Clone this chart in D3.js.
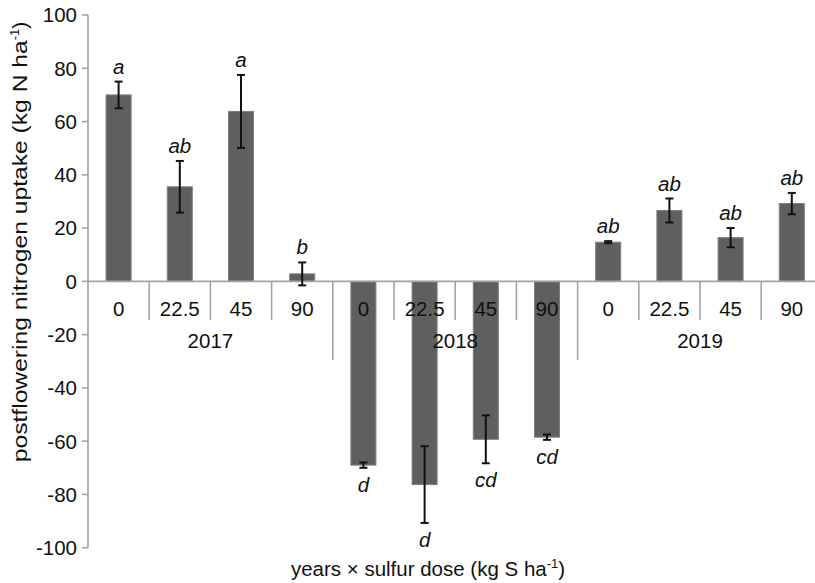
<!DOCTYPE html>
<html><head><meta charset="utf-8">
<script src="https://cdn.jsdelivr.net/npm/d3@7"></script>
<style>body{margin:0;background:#fff}svg{display:block}text{font-family:"Liberation Sans",Arial,sans-serif}</style>
</head><body>
<svg id="c" width="815" height="583"></svg>
<script>
const years = ["2017","2018","2019"];
const doses = ["0","22.5","45","90"];
const values = [70, 35.5, 63.8, 2.8, -69, -76.3, -59.3, -58.5, 14.7, 26.6, 16.4, 29.2];
const errors = [5, 9.7, 13.7, 4.3, 1, 14.4, 9, 1, 0.4, 4.5, 3.6, 4];
const letters = ["a","ab","a","b","d","d","cd","cd","ab","ab","ab","ab"];
const yTicks = [-100,-80,-60,-40,-20,0,20,40,60,80,100];

const data = [];
years.forEach((yr,i)=>doses.forEach((d,j)=>{const k=i*4+j;data.push({key:yr+"-"+d,year:yr,dose:d,v:values[k],e:errors[k],l:letters[k]});}));

const svg = d3.select("#c");
const y = d3.scaleLinear().domain([-100,100]).range([547.7,15]);
const x = d3.scaleBand().domain(data.map(d=>d.key)).range([88,822.4]).padding(0);
const bw = x.bandwidth();
const barW = 25;
const axisCol = "#a3a3a3";

// y axis
svg.append("line").attr("x1",88).attr("x2",88).attr("y1",y(100)).attr("y2",y(-100)).attr("stroke",axisCol).attr("stroke-width",1.6);
svg.selectAll(".yt").data(yTicks).enter().append("line").attr("x1",82).attr("x2",88).attr("y1",d=>y(d)).attr("y2",d=>y(d)).attr("stroke",axisCol).attr("stroke-width",1.6);
svg.selectAll(".yl").data(yTicks).enter().append("text").attr("x",77).attr("y",d=>y(d)).attr("dy","0.36em").attr("text-anchor","end").attr("font-size",20.5).attr("fill","#111").text(d=>d);

// separators
const bounds = d3.range(1,13);
svg.selectAll(".sep").data(bounds).enter().append("line")
  .attr("x1",i=>88+i*bw).attr("x2",i=>88+i*bw)
  .attr("y1",y(0)).attr("y2",i=>i%4===0?360:320)
  .attr("stroke",axisCol).attr("stroke-width",1.6);

// bars
svg.selectAll(".bar").data(data).enter().append("rect")
  .attr("x",d=>x(d.key)+bw/2-barW/2).attr("width",barW)
  .attr("y",d=>y(Math.max(0,d.v))).attr("height",d=>Math.abs(y(d.v)-y(0)))
  .attr("fill","#5f5f5f").attr("stroke","#7d7d7d").attr("stroke-width",1);

// zero line
svg.append("line").attr("x1",88).attr("x2",815).attr("y1",y(0)).attr("y2",y(0)).attr("stroke",axisCol).attr("stroke-width",1.6);

// error bars
const eg = svg.selectAll(".err").data(data).enter().append("g").attr("stroke","#111").attr("stroke-width",2);
eg.append("line").attr("x1",d=>x(d.key)+bw/2).attr("x2",d=>x(d.key)+bw/2).attr("y1",d=>y(d.v+d.e)).attr("y2",d=>y(d.v-d.e));
eg.append("line").attr("x1",d=>x(d.key)+bw/2-4).attr("x2",d=>x(d.key)+bw/2+4).attr("y1",d=>y(d.v+d.e)).attr("y2",d=>y(d.v+d.e));
eg.append("line").attr("x1",d=>x(d.key)+bw/2-4).attr("x2",d=>x(d.key)+bw/2+4).attr("y1",d=>y(d.v-d.e)).attr("y2",d=>y(d.v-d.e));

// letters
svg.selectAll(".let").data(data).enter().append("text")
  .attr("x",d=>x(d.key)+bw/2).attr("y",d=>d.v>=0?y(d.v+d.e)-8:y(d.v-d.e)+24)
  .attr("text-anchor","middle").attr("font-size",20.5).attr("font-style","italic").attr("fill","#111").text(d=>d.l);

// category labels
svg.selectAll(".cl").data(data).enter().append("text")
  .attr("x",d=>x(d.key)+bw/2).attr("y",316).attr("text-anchor","middle").attr("font-size",20.5).attr("fill","#111").text(d=>d.dose);
svg.selectAll(".yrl").data(years).enter().append("text")
  .attr("x",(d,i)=>88+(i*4+2)*bw).attr("y",347.5).attr("text-anchor","middle").attr("font-size",20.5).attr("fill","#111").text(d=>d);

// x title
const xt = svg.append("text").attr("x",428).attr("y",576).attr("text-anchor","middle").attr("font-size",20.5).attr("fill","#111");
xt.append("tspan").text("years \u00d7 sulfur dose (kg S ha");
xt.append("tspan").attr("font-size",13).attr("dy",-8).text("-1");
xt.append("tspan").attr("dy",8).text(")");

// y title
const yt = svg.append("text").attr("transform","translate(27,242) rotate(-90)").attr("text-anchor","middle").attr("font-size",21).attr("fill","#111");
yt.append("tspan").attr("textLength",422).attr("lengthAdjust","spacingAndGlyphs").text("postflowering nitrogen uptake (kg N ha");
yt.append("tspan").attr("font-size",13).attr("dy",-8).text("-1");
yt.append("tspan").attr("dy",8).text(")");
</script>
</body></html>
